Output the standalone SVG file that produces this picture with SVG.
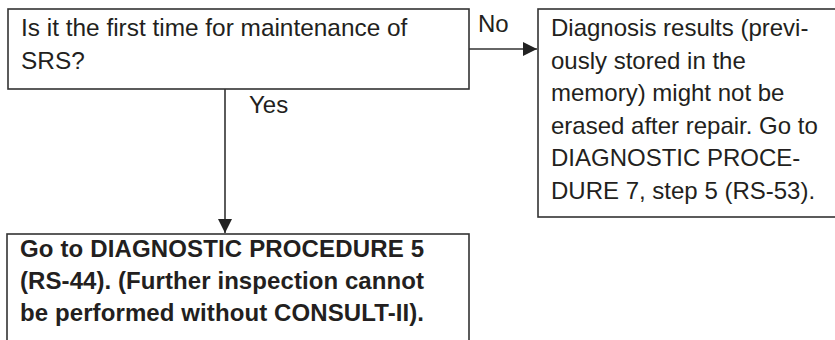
<svg xmlns="http://www.w3.org/2000/svg" width="835" height="340" viewBox="0 0 835 340">
<style>
.box{fill:#fff;stroke:#333;stroke-width:1.6}
.t{font-family:"Liberation Sans",Arial,sans-serif;font-size:24px;fill:#231f20}
.q{font-size:24.4px}
.b{font-weight:bold}
.ln{stroke:#333;stroke-width:1.6;fill:none}
</style>
<defs>
<marker id="ah" viewBox="0 0 10 10" refX="10" refY="5" markerWidth="15" markerHeight="14" markerUnits="userSpaceOnUse" orient="auto">
<path d="M0,0 L10,5 L0,10 z" fill="#222"/>
</marker>
</defs>
<rect width="835" height="340" fill="#fff"/>
<g id="connectors">
<line class="ln" x1="469" y1="49" x2="537" y2="49" marker-end="url(#ah)"/>
<text class="t" x="478" y="32">No</text>
<line class="ln" x1="225" y1="89" x2="225" y2="233" marker-end="url(#ah)"/>
<text class="t" x="249" y="113">Yes</text>
</g>
<g id="q1">
<rect class="box" x="8" y="9" width="461" height="80"/>
<text class="t q" x="21" y="36">Is it the first time for maintenance of</text>
<text class="t q" x="21" y="69">SRS?</text>
</g>
<g id="no-result">
<rect class="box" x="538" y="9" width="310" height="208"/>
<text class="t" x="551" y="36">Diagnosis results (previ-</text>
<text class="t" x="551" y="68.5">ously stored in the</text>
<text class="t" x="551" y="101">memory) might not be</text>
<text class="t" x="551" y="133.5">erased after repair. Go to</text>
<text class="t" x="551" y="166">DIAGNOSTIC PROCE-</text>
<text class="t" x="551" y="198.5">DURE 7, step 5 (RS-53).</text>
</g>
<g id="yes-result">
<rect class="box" x="7" y="234" width="462" height="120"/>
<text class="t b" x="20" y="257" textLength="404" lengthAdjust="spacing">Go to DIAGNOSTIC PROCEDURE 5</text>
<text class="t b" x="20" y="289" textLength="404" lengthAdjust="spacing">(RS-44). (Further inspection cannot</text>
<text class="t b" x="20" y="321" textLength="404" lengthAdjust="spacing">be performed without CONSULT-II).</text>
</g>
</svg>
